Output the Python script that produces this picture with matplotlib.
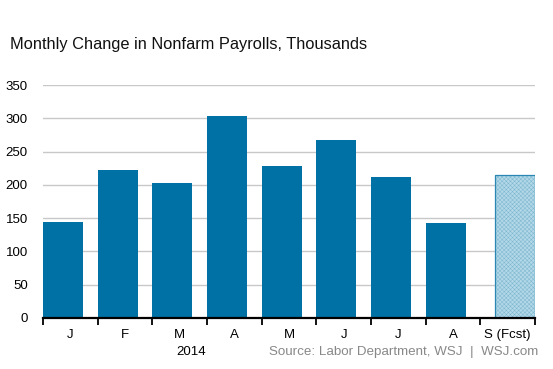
import matplotlib
matplotlib.use("Agg")
import matplotlib.pyplot as plt
import numpy as np

months = ["J", "F", "M", "A", "M", "J", "J", "A", "S (Fcst)"]
payrolls = [144, 222, 203, 304, 229, 267, 212, 142, 215]
is_forecast = [False] * 8 + [True]
yticks = [0, 50, 100, 150, 200, 250, 300, 350]

plt.rcParams["font.family"] = ["Liberation Sans", "DejaVu Sans"]
plt.rcParams["hatch.linewidth"] = 0.35

fig = plt.figure(figsize=(5.53, 3.69), dpi=100)
ax = fig.add_axes([43 / 553, 1 - 318 / 369, 492 / 553, 233 / 369])

x = np.arange(len(months))
w = 0.731
for xi, val, fc in zip(x, payrolls, is_forecast):
    if fc:
        # forecast bar sits at the right of its slot, hatched light blue
        left = xi + 0.5 - w
        ax.bar(left, val, width=w, align="edge", color="#b3d8e8",
               edgecolor="#7db6cf", hatch="xxxxxxxx", linewidth=0, zorder=3)
        ax.bar(left, val, width=w, align="edge", fill=False,
               edgecolor="#2a86b3", linewidth=0.9, zorder=4)
    else:
        ax.bar(xi - 0.5, val, width=w, align="edge", color="#0071a4",
               linewidth=0, zorder=3)

ax.set_xlim(-0.5, len(months) - 0.5)
ax.set_ylim(0, 350)
ax.set_yticks(yticks)
ax.yaxis.grid(True, color="#c8c8c8", linewidth=1.0, zorder=0)
ax.tick_params(axis="y", length=0, labelsize=9.5, pad=11)

ax.set_xticks(x)
ax.set_xticklabels(months)
ax.set_xticks(np.arange(len(months) + 1) - 0.5, minor=True)
ax.tick_params(axis="x", which="major", length=0, labelsize=9.5, pad=8)
ax.tick_params(axis="x", which="minor", length=5, width=1.3, direction="out", color="black")

for side in ["top", "right", "left"]:
    ax.spines[side].set_visible(False)
ax.spines["bottom"].set_linewidth(1.6)
ax.spines["bottom"].set_zorder(5)

fig.text(10 / 553, 1 - 44 / 369, "Monthly Change in Nonfarm Payrolls, Thousands",
         fontsize=11.8, ha="left", va="center", color="#111111")
fig.text(191 / 553, 1 - 352 / 369, "2014", fontsize=9.5, ha="center", va="center")
fig.text(538 / 553, 1 - 352 / 369, "Source: Labor Department, WSJ  |  WSJ.com",
         fontsize=9.6, ha="right", va="center", color="#888888")

fig.savefig("out.png", dpi=100)
